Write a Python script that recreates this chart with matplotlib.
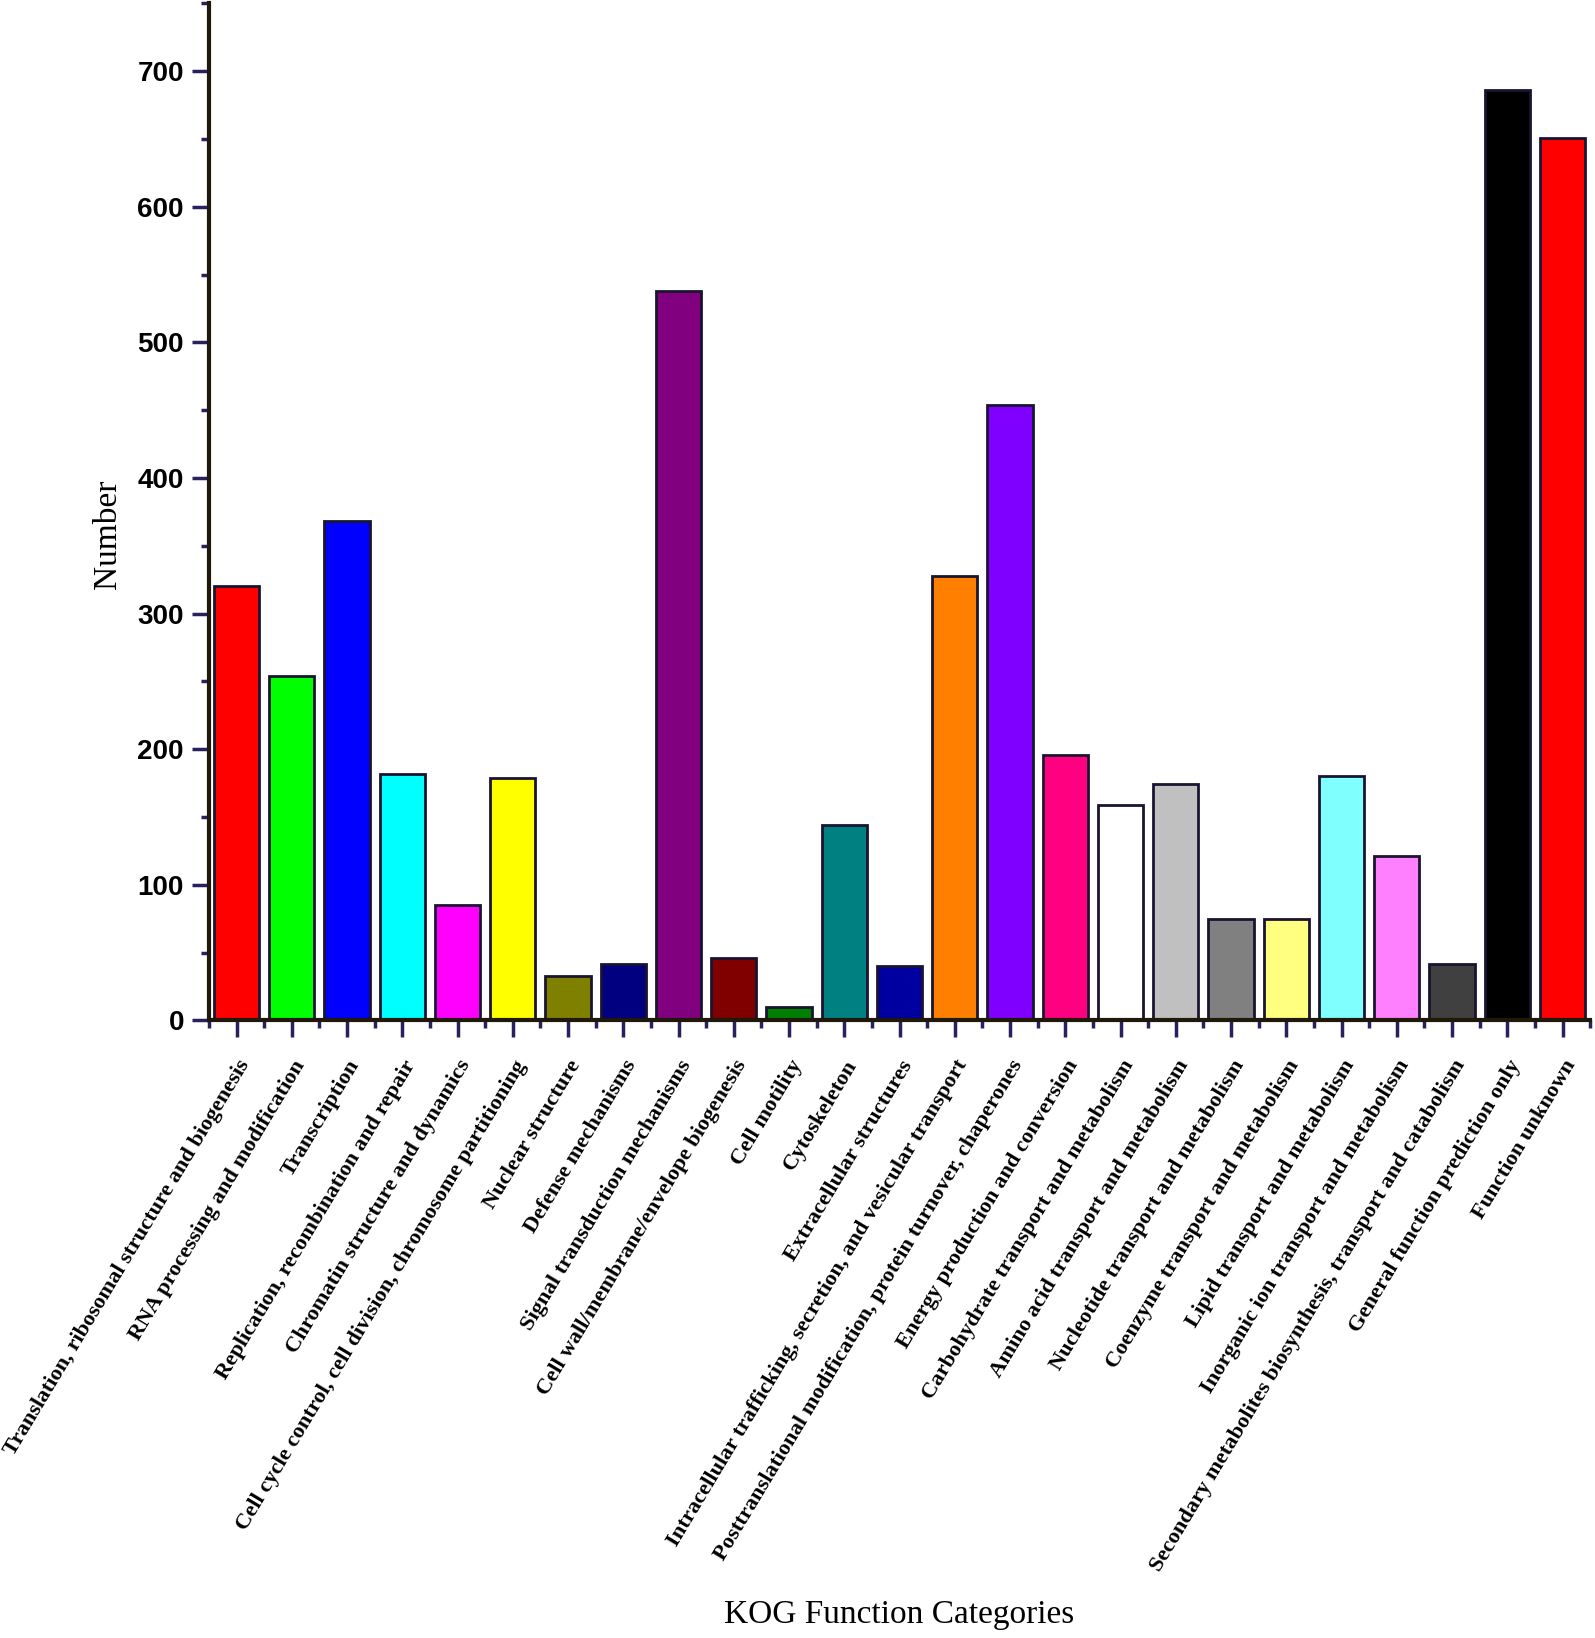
import matplotlib
matplotlib.use("Agg")
import matplotlib.pyplot as plt
from matplotlib.ticker import MultipleLocator, FixedLocator

categories = [
    "Translation, ribosomal structure and biogenesis",
    "RNA processing and modification",
    "Transcription",
    "Replication, recombination and repair",
    "Chromatin structure and dynamics",
    "Cell cycle control, cell division, chromosome partitioning",
    "Nuclear structure",
    "Defense mechanisms",
    "Signal transduction mechanisms",
    "Cell wall/membrane/envelope biogenesis",
    "Cell motility",
    "Cytoskeleton",
    "Extracellular structures",
    "Intracellular trafficking, secretion, and vesicular transport",
    "Posttranslational modification, protein turnover, chaperones",
    "Energy production and conversion",
    "Carbohydrate transport and metabolism",
    "Amino acid transport and metabolism",
    "Nucleotide transport and metabolism",
    "Coenzyme transport and metabolism",
    "Lipid transport and metabolism",
    "Inorganic ion transport and metabolism",
    "Secondary metabolites biosynthesis, transport and catabolism",
    "General function prediction only",
    "Function unknown",
]
values = [320, 254, 368, 182, 85, 179, 33, 42, 538, 46, 10, 144, 40, 328,
          454, 196, 159, 174, 75, 75, 180, 121, 42, 686, 651]
colors = ["#FF0000", "#00FF00", "#0000FF", "#00FFFF", "#FF00FF", "#FFFF00",
          "#808000", "#000080", "#800080", "#800000", "#008000", "#008080",
          "#0000A0", "#FF8000", "#8000FF", "#FF0080", "#FFFFFF", "#C0C0C0",
          "#808080", "#FFFF80", "#80FFFF", "#FF80FF", "#404040", "#000000",
          "#FF0000"]

fig = plt.figure(figsize=(15.95, 16.38), dpi=100)
ax = fig.add_axes([0.131, 0.377, 0.866, 0.621])

x = list(range(len(categories)))
ax.bar(x, values, width=0.82, color=colors, edgecolor="#1a1430", linewidth=2.0, zorder=2)

ax.set_xlim(-0.5, len(categories) - 0.5)
ax.set_ylim(0, 750)

for s in ["top", "right"]:
    ax.spines[s].set_visible(False)
for s in ["left", "bottom"]:
    ax.spines[s].set_linewidth(3)
    ax.spines[s].set_color("#201808")

ax.yaxis.set_major_locator(MultipleLocator(100))
ax.yaxis.set_minor_locator(MultipleLocator(50))
ax.set_xticks(x)
ax.xaxis.set_minor_locator(FixedLocator([i + 0.5 for i in range(-1, len(categories))]))

ax.tick_params(axis="both", which="major", direction="out", length=12, width=2.5, color="#2a2060")
ax.tick_params(axis="both", which="minor", direction="out", length=6, width=2.5, color="#2a2060")
ax.tick_params(axis="y", which="major", labelsize=20, pad=6)
ax.tick_params(axis="x", which="major", pad=14)

for lab in ax.get_yticklabels():
    lab.set_fontfamily("Liberation Sans")
    lab.set_fontweight("bold")

ax.set_xticklabels(categories, rotation=59, ha="right", va="top", rotation_mode="anchor",
                   fontfamily="Liberation Serif", fontsize=16.2, fontweight="bold")

fig.text(0.0675, 0.6735, "Number", rotation=90, ha="center", va="center",
         fontfamily="Liberation Serif", fontsize=24)
fig.text(0.564, 0.014, "KOG Function Categories", ha="center", va="center",
         fontfamily="Liberation Serif", fontsize=24)

fig.savefig("out.png", dpi=100)
